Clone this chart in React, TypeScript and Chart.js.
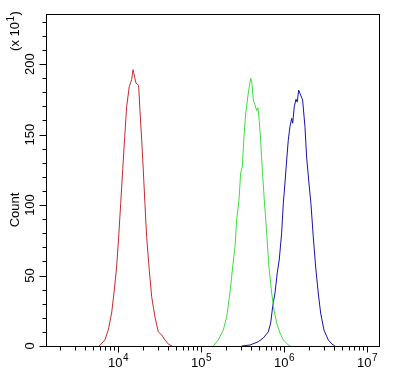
import React, { useEffect, useRef } from "react";
import { Chart, registerables } from "chart.js";

Chart.register(...registerables);

// log10 channel positions and counts (x10^1)
const redLogX = [3.771, 3.843, 3.883, 3.924, 3.952, 3.984, 4.008, 4.033, 4.057, 4.081, 4.105, 4.136, 4.165, 4.181, 4.189, 4.217, 4.249, 4.265, 4.286, 4.305, 4.325, 4.346, 4.377, 4.406, 4.446, 4.486, 4.527, 4.566, 4.606, 4.651];
const redCounts = [0, 4.3, 11.3, 23.4, 37.6, 56, 77, 101, 125, 148, 170, 184, 189, 196, 194, 186.5, 185, 167, 146, 125, 101, 77, 54, 35, 20.6, 10, 7.8, 4.3, 1.4, 0];

const greenLogX = [5.148, 5.208, 5.269, 5.31, 5.349, 5.382, 5.41, 5.43, 5.458, 5.478, 5.498, 5.518, 5.539, 5.57, 5.599, 5.614, 5.63, 5.651, 5.671, 5.687, 5.702, 5.719, 5.739, 5.763, 5.792, 5.819, 5.852, 5.88, 5.912, 5.952, 5.992, 6.052, 6.081];
const greenCounts = [0, 4.3, 11.3, 20.8, 37.6, 56, 70.4, 89.4, 103.5, 122.7, 127, 148.4, 165, 179.4, 190, 186.5, 174.5, 171, 167, 169, 160, 146, 125, 103.5, 80, 56, 37.6, 25.5, 16.3, 9.2, 4.3, 0.7, 0];

const blueLogX = [5.49, 5.59, 5.69, 5.751, 5.811, 5.84, 5.864, 5.892, 5.919, 5.943, 5.972, 5.992, 6.012, 6.033, 6.052, 6.072, 6.093, 6.105, 6.124, 6.145, 6.16, 6.177, 6.201, 6.225, 6.253, 6.273, 6.301, 6.325, 6.353, 6.382, 6.413, 6.442, 6.482, 6.534, 6.578, 6.614];
const blueCounts = [0, 0.7, 3, 5.7, 10, 16.3, 28, 37.6, 51.8, 61, 80, 101, 115.6, 132, 146, 155.5, 161.5, 158, 169.7, 175, 173, 181.5, 178, 174.5, 155.5, 134, 115.6, 101, 77.5, 56, 37.6, 23.4, 11.3, 4.3, 1.4, 0];

const xLogMin = 3.133;
const xLogMax = 7.145;
const xDecades = [4, 5, 6, 7];
const xMinorMultipliers = [2, 3, 4, 5, 6, 7, 8, 9];
const yMax = 235.5;
const yLabelValues = [0, 50, 100, 150, 200];
const yMinorStep = 10;
const yTitle = "Count";
const yMultiplierExp = "1";

const FONT_FAMILY = "'Liberation Sans Narrow', 'Liberation Sans', Arial, sans-serif";

function toPoints(lx: number[], ys: number[]) {
  return lx.map((v, i) => ({ x: Math.pow(10, v), y: ys[i] }));
}

const framePlugin = {
  id: "frame",
  afterDraw(chart: any) {
    const ctx: CanvasRenderingContext2D = chart.ctx;
    const { left, top, right, bottom } = chart.chartArea;
    const xs = chart.scales.x;
    const ys = chart.scales.y;
    ctx.save();
    ctx.strokeStyle = "#000";
    ctx.fillStyle = "#000";
    ctx.lineWidth = 1;
    ctx.strokeRect(left + 0.5, top + 0.5, right - left, bottom - top);

    // y ticks
    ctx.beginPath();
    for (let v = 0; v <= yMax; v += yMinorStep) {
      const y = Math.round(ys.getPixelForValue(v)) + 0.5;
      const len = v % 50 === 0 ? 7 : 4;
      ctx.moveTo(left + 0.5 - len, y);
      ctx.lineTo(left + 0.5, y);
    }
    // x ticks
    const minV = Math.pow(10, xLogMin);
    const maxV = Math.pow(10, xLogMax);
    for (let d = 3; d <= 7; d++) {
      const base = Math.pow(10, d);
      const major = base;
      if (major >= minV && major <= maxV) {
        const x = Math.round(xs.getPixelForValue(major)) + 0.5;
        ctx.moveTo(x, bottom + 0.5);
        ctx.lineTo(x, bottom + 0.5 + 6);
      }
      for (const m of xMinorMultipliers) {
        const v = m * base;
        if (v < minV || v > maxV) continue;
        const x = Math.round(xs.getPixelForValue(v)) + 0.5;
        ctx.moveTo(x, bottom + 0.5);
        ctx.lineTo(x, bottom + 0.5 + 4);
      }
    }
    ctx.stroke();

    // y labels (rotated)
    ctx.font = `13px ${FONT_FAMILY}`;
    ctx.textAlign = "center";
    ctx.textBaseline = "middle";
    for (const v of yLabelValues) {
      const y = ys.getPixelForValue(v);
      ctx.save();
      ctx.translate(30, y);
      ctx.rotate(-Math.PI / 2);
      ctx.fillText(String(v), 0, 0);
      ctx.restore();
    }

    // x labels 10^n
    ctx.textBaseline = "alphabetic";
    ctx.textAlign = "left";
    for (const d of xDecades) {
      const px = xs.getPixelForValue(Math.pow(10, d));
      ctx.font = `13px ${FONT_FAMILY}`;
      const w1 = ctx.measureText("10").width;
      ctx.font = `10px ${FONT_FAMILY}`;
      const w2 = ctx.measureText(String(d)).width;
      const start = px - (w1 + w2) / 2;
      ctx.font = `13px ${FONT_FAMILY}`;
      ctx.fillText("10", start, 367);
      ctx.font = `10px ${FONT_FAMILY}`;
      ctx.fillText(String(d), start + w1 + 0.5, 361);
    }

    // y title
    ctx.save();
    ctx.translate(15, 210);
    ctx.rotate(-Math.PI / 2);
    ctx.font = `13px ${FONT_FAMILY}`;
    ctx.textAlign = "center";
    ctx.textBaseline = "middle";
    ctx.fillText(yTitle, 0, 0);
    ctx.restore();

    // multiplier (x 10^1)
    ctx.save();
    ctx.translate(15, 31);
    ctx.rotate(-Math.PI / 2);
    ctx.textBaseline = "middle";
    ctx.textAlign = "left";
    ctx.font = `13px ${FONT_FAMILY}`;
    const p1 = "(x 10";
    const wa = ctx.measureText(p1).width;
    ctx.font = `10px ${FONT_FAMILY}`;
    const wb = ctx.measureText(yMultiplierExp).width;
    ctx.font = `13px ${FONT_FAMILY}`;
    const wc = ctx.measureText(")").width;
    const total = wa + wb + wc + 1;
    let cx = -total / 2;
    ctx.fillText(p1, cx, 0);
    cx += wa;
    ctx.font = `10px ${FONT_FAMILY}`;
    ctx.fillText(yMultiplierExp, cx + 0.5, -4);
    cx += wb + 1;
    ctx.font = `13px ${FONT_FAMILY}`;
    ctx.fillText(")", cx, 0);
    ctx.restore();

    ctx.restore();
  },
};

export default function App() {
  const canvasRef = useRef<HTMLCanvasElement | null>(null);

  useEffect(() => {
    document.body.style.margin = "0";
    const canvas = canvasRef.current;
    if (!canvas) return;
    const chart = new Chart(canvas, {
      type: "line",
      data: {
        datasets: [
          {
            data: toPoints(redLogX, redCounts),
            borderColor: "#c42a2c",
            borderWidth: 1,
            pointRadius: 0,
            tension: 0,
          },
          {
            data: toPoints(greenLogX, greenCounts),
            borderColor: "#3fdc3f",
            borderWidth: 1,
            pointRadius: 0,
            tension: 0,
          },
          {
            data: toPoints(blueLogX, blueCounts),
            borderColor: "#1414a8",
            borderWidth: 1,
            pointRadius: 0,
            tension: 0,
          },
        ],
      },
      options: {
        animation: false,
        responsive: false,
        maintainAspectRatio: false,
        devicePixelRatio: 1,
        layout: { padding: { left: 46, top: 14, right: 21, bottom: 31 } },
        plugins: { legend: { display: false }, tooltip: { enabled: false } },
        scales: {
          x: {
            type: "logarithmic",
            display: false,
            min: Math.pow(10, xLogMin),
            max: Math.pow(10, xLogMax),
          },
          y: {
            type: "linear",
            display: false,
            min: 0,
            max: yMax,
          },
        },
      },
      plugins: [framePlugin],
    });
    return () => chart.destroy();
  }, []);

  return (
    <div style={{ width: 400, height: 377, background: "#fff" }}>
      <canvas ref={canvasRef} width={400} height={377} style={{ display: "block" }} />
    </div>
  );
}
